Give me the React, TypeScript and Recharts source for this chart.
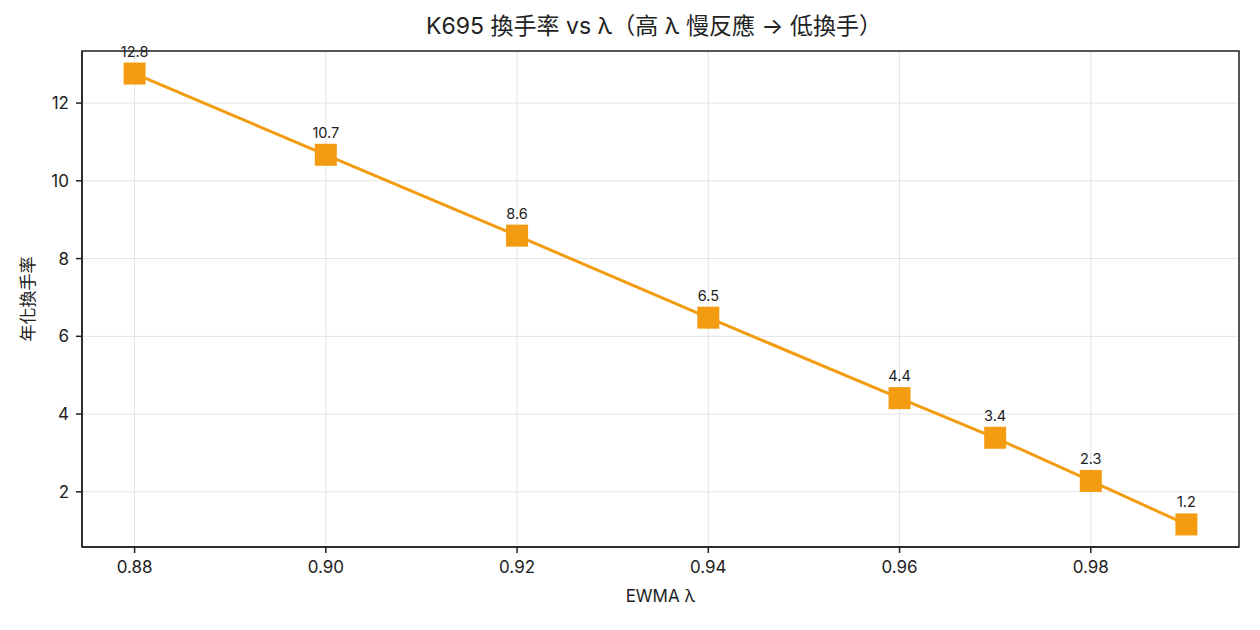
import React from 'react';
import { LineChart, Line, XAxis, YAxis, CartesianGrid, LabelList, Label, ReferenceArea } from 'recharts';

const lambdas = [0.88, 0.9, 0.92, 0.94, 0.96, 0.97, 0.98, 0.99];
const turnover = [12.76, 10.67, 8.59, 6.48, 4.41, 3.39, 2.28, 1.16];
const xTicks = [0.88, 0.9, 0.92, 0.94, 0.96, 0.98];
const yTicks = [2, 4, 6, 8, 10, 12];
const xDomain = [0.8745, 0.9955];
const yDomain = [0.58, 13.34];
const title = 'K695 換手率 vs λ（高 λ 慢反應 → 低換手）';
const xLabel = 'EWMA λ';
const yLabel = '年化換手率';

const data = lambdas.map((l, i) => ({ lambda: l, turnover: turnover[i] }));

const FONT = 'Inter, "Noto Sans CJK TC", "Noto Sans CJK JP", sans-serif';
const ORANGE = '#F39C12';
const INK = '#222222';

const SquareDot = (props: any) => {
  const { cx, cy, index } = props;
  if (cx == null || cy == null) return <g key={`d${index}`} />;
  return <rect key={`d${index}`} x={cx - 11} y={cy - 11} width={22} height={22} fill={ORANGE} />;
};

export default function App() {
  return (
    <div style={{ position: 'absolute', left: 0, top: 0, width: 1260, height: 630, background: '#fff', fontFamily: FONT }}>
      <div
        style={{
          position: 'absolute',
          left: 0,
          width: 1308,
          top: 13,
          textAlign: 'center',
          fontSize: 23,
          lineHeight: '26px',
          color: INK,
          fontFamily: FONT,
        }}
      >
        {title}
      </div>
      <LineChart
        width={1260}
        height={630}
        data={data}
        margin={{ top: 51, right: 21, bottom: 0, left: 0 }}
        style={{ fontFamily: FONT }}
      >
        <CartesianGrid stroke="#e3e3e3" strokeWidth={1} />
        <XAxis
          dataKey="lambda"
          type="number"
          domain={xDomain}
          ticks={xTicks}
          allowDataOverflow
          height={83}
          tickFormatter={(v: number) => v.toFixed(2)}
          tick={{ fill: INK, fontSize: 17, fontFamily: FONT }}
          tickSize={6}
          tickMargin={8}
          tickLine={{ stroke: INK, strokeWidth: 1.5 }}
          axisLine={{ stroke: INK, strokeWidth: 1.5 }}
        >
          <Label
            content={(p: any) => {
              const vb = p.viewBox || {};
              return (
                <text x={vb.x + vb.width / 2} y={602} textAnchor="middle" fill={INK} fontSize={17} fontFamily={FONT}>
                  {xLabel}
                </text>
              );
            }}
          />
        </XAxis>
        <YAxis
          type="number"
          domain={yDomain}
          ticks={yTicks}
          allowDataOverflow
          width={82}
          tick={{ fill: INK, fontSize: 17, fontFamily: FONT }}
          tickSize={6}
          tickMargin={7}
          tickLine={{ stroke: INK, strokeWidth: 1.5 }}
          axisLine={{ stroke: INK, strokeWidth: 1.5 }}
        >
          <Label
            content={(p: any) => {
              const vb = p.viewBox || {};
              const cy = vb.y + vb.height / 2;
              return (
                <text
                  x={34}
                  y={cy}
                  textAnchor="middle"
                  fill={INK}
                  fontSize={17}
                  fontFamily={FONT}
                  transform={`rotate(-90 34 ${cy})`}
                >
                  {yLabel}
                </text>
              );
            }}
          />
        </YAxis>
        <ReferenceArea
          x1={xDomain[0]}
          x2={xDomain[1]}
          y1={yDomain[0]}
          y2={yDomain[1]}
          fill="none"
          fillOpacity={0}
          stroke={INK}
          strokeWidth={1.5}
          strokeOpacity={1}
          ifOverflow="visible"
        />
        <Line
          type="linear"
          dataKey="turnover"
          stroke={ORANGE}
          strokeWidth={3}
          dot={SquareDot}
          activeDot={false}
          isAnimationActive={false}
        >
          <LabelList
            dataKey="turnover"
            position="top"
            offset={17}
            formatter={(v: any) => Number(v).toFixed(1)}
            style={{ fill: INK, fontSize: 14.5, fontFamily: FONT }}
          />
        </Line>
      </LineChart>
    </div>
  );
}
